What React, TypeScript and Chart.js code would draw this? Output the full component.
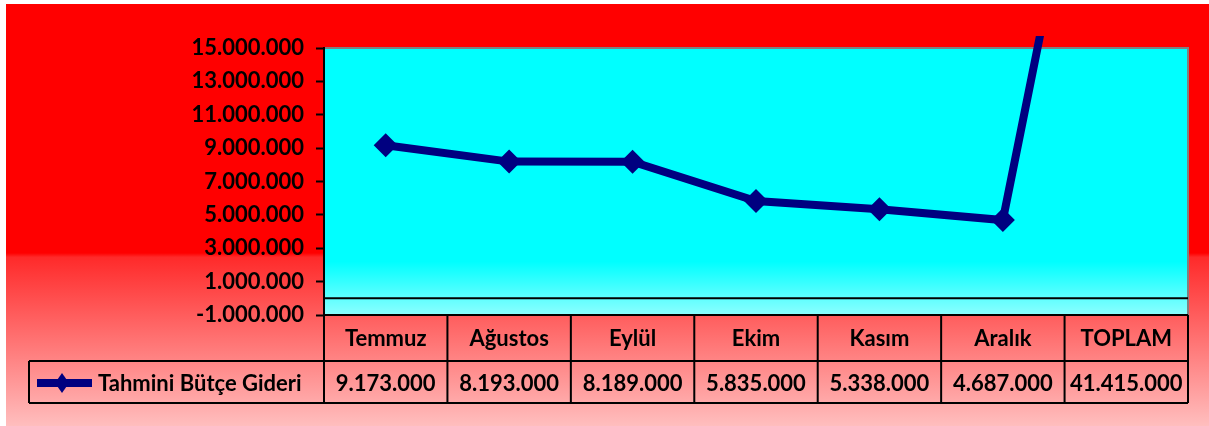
import React, { useEffect, useRef } from "react";
import { Chart, registerables } from "chart.js";

Chart.register(...registerables);

const categories = ["Temmuz", "Ağustos", "Eylül", "Ekim", "Kasım", "Aralık", "TOPLAM"];
const seriesName = "Tahmini Bütçe Gideri";
const values = [9173000, 8193000, 8189000, 5835000, 5338000, 4687000, 41415000];
const yTicks = [-1000000, 1000000, 3000000, 5000000, 7000000, 9000000, 11000000, 13000000, 15000000];

const FONT = "Lato";
const NAVY = "#000080";

function fmt(n: number): string {
  const s = Math.abs(n).toString().replace(/\B(?=(\d{3})+(?!\d))/g, ".");
  return (n < 0 ? "-" : "") + s;
}

const decorPlugin = {
  id: "decor",
  beforeDraw(chart: any) {
    const { ctx, width, height, chartArea: a } = chart;
    ctx.save();
    ctx.fillStyle = "#ffffff";
    ctx.fillRect(0, 0, width, height);
    const g = ctx.createLinearGradient(0, 4, 0, height);
    g.addColorStop(0, "#FF0000");
    g.addColorStop(0.59, "#FF0000");
    g.addColorStop(0.6, "#FF2A2A");
    g.addColorStop(1, "#FFBEBE");
    ctx.fillStyle = g;
    ctx.fillRect(6, 4, width - 6, height - 4);

    const pg = ctx.createLinearGradient(0, a.top, 0, a.bottom);
    pg.addColorStop(0, "#00FFFF");
    pg.addColorStop(0.8, "#00FFFF");
    pg.addColorStop(1, "#8CFFFF");
    ctx.fillStyle = pg;
    ctx.fillRect(a.left, a.top, a.right - a.left, a.bottom - a.top);

    ctx.strokeStyle = "#808080";
    ctx.lineWidth = 2;
    ctx.beginPath();
    ctx.moveTo(a.left, a.top);
    ctx.lineTo(a.right, a.top);
    ctx.lineTo(a.right, a.bottom);
    ctx.stroke();

    const y0 = chart.scales.y.getPixelForValue(0);
    ctx.strokeStyle = "#000000";
    ctx.beginPath();
    ctx.moveTo(a.left, y0);
    ctx.lineTo(a.right, y0);
    ctx.stroke();
    ctx.restore();
  },
  afterDraw(chart: any) {
    const { ctx, chartArea: a } = chart;
    const n = categories.length;
    const colW = (a.right - a.left) / n;
    const hTop = a.bottom;
    const hBot = a.bottom + 46;
    const dBot = a.bottom + 88;
    const legLeft = 29;
    ctx.save();
    ctx.strokeStyle = "#000000";
    ctx.lineWidth = 2;
    ctx.beginPath();
    ctx.moveTo(a.left, a.top);
    ctx.lineTo(a.left, dBot);
    ctx.moveTo(a.left, hTop);
    ctx.lineTo(a.right, hTop);
    ctx.moveTo(legLeft, hBot);
    ctx.lineTo(a.right, hBot);
    ctx.moveTo(legLeft, dBot);
    ctx.lineTo(a.right, dBot);
    ctx.moveTo(legLeft, hBot);
    ctx.lineTo(legLeft, dBot);
    for (let i = 1; i <= n; i++) {
      const x = a.left + i * colW;
      ctx.moveTo(x, hTop);
      ctx.lineTo(x, dBot);
    }
    ctx.stroke();

    ctx.fillStyle = "#000000";
    ctx.font = `bold 22px ${FONT}`;
    ctx.textAlign = "center";
    ctx.textBaseline = "middle";
    for (let i = 0; i < n; i++) {
      const cx = a.left + (i + 0.5) * colW;
      ctx.fillText(categories[i], cx, (hTop + hBot) / 2 + 1);
      ctx.fillText(fmt(values[i]), cx, (hBot + dBot) / 2 + 2);
    }
    // legend
    const ly = (hBot + dBot) / 2 + 1;
    ctx.strokeStyle = NAVY;
    ctx.lineWidth = 8;
    ctx.beginPath();
    ctx.moveTo(37, ly);
    ctx.lineTo(92, ly);
    ctx.stroke();
    ctx.fillStyle = NAVY;
    ctx.beginPath();
    ctx.moveTo(62, ly - 10);
    ctx.lineTo(69, ly);
    ctx.lineTo(62, ly + 10);
    ctx.lineTo(55, ly);
    ctx.closePath();
    ctx.fill();
    ctx.fillStyle = "#000000";
    ctx.textAlign = "left";
    ctx.fillText(seriesName, 98, ly + 1);
    ctx.restore();
  },
};

export default function App() {
  const ref = useRef<HTMLCanvasElement | null>(null);
  useEffect(() => {
    if (!ref.current) return;
    const chart = new Chart(ref.current, {
      type: "line",
      data: {
        labels: categories,
        datasets: [
          {
            label: seriesName,
            data: values,
            borderColor: NAVY,
            backgroundColor: NAVY,
            borderWidth: 8,
            tension: 0,
            pointStyle: "rectRot",
            pointRadius: 12,
            pointHoverRadius: 12,
            pointBackgroundColor: NAVY,
            pointBorderColor: NAVY,
            pointBorderWidth: 0,
            clip: { left: 0, top: 12, right: 0, bottom: 0 } as any,
          },
        ],
      },
      options: {
        responsive: false,
        animation: false,
        events: [],
        layout: { padding: { left: 0, top: 48, right: 21, bottom: 111 } },
        plugins: { legend: { display: false }, tooltip: { enabled: false }, title: { display: false } },
        scales: {
          x: { display: false, offset: true },
          y: {
            min: -1000000,
            max: 15000000,
            afterFit: (s: any) => {
              s.width = 324;
            },
            afterBuildTicks: (s: any) => {
              s.ticks = yTicks.map((v) => ({ value: v }));
            },
            grid: { drawOnChartArea: false, drawTicks: true, tickLength: 8, tickColor: "#000", tickWidth: 2 },
            border: { display: true, color: "#000", width: 2 },
            ticks: {
              padding: 12,
              color: "#000",
              font: { family: FONT, weight: "bold", size: 22 },
              callback: (v: any) => fmt(Number(v)),
            },
          },
        },
      },
      plugins: [decorPlugin],
    });
    return () => chart.destroy();
  }, []);
  return (
    <div style={{ position: "fixed", left: 0, top: 0, width: 1209, height: 426 }}>
      <canvas ref={ref} width={1209} height={426} style={{ display: "block" }} />
    </div>
  );
}
